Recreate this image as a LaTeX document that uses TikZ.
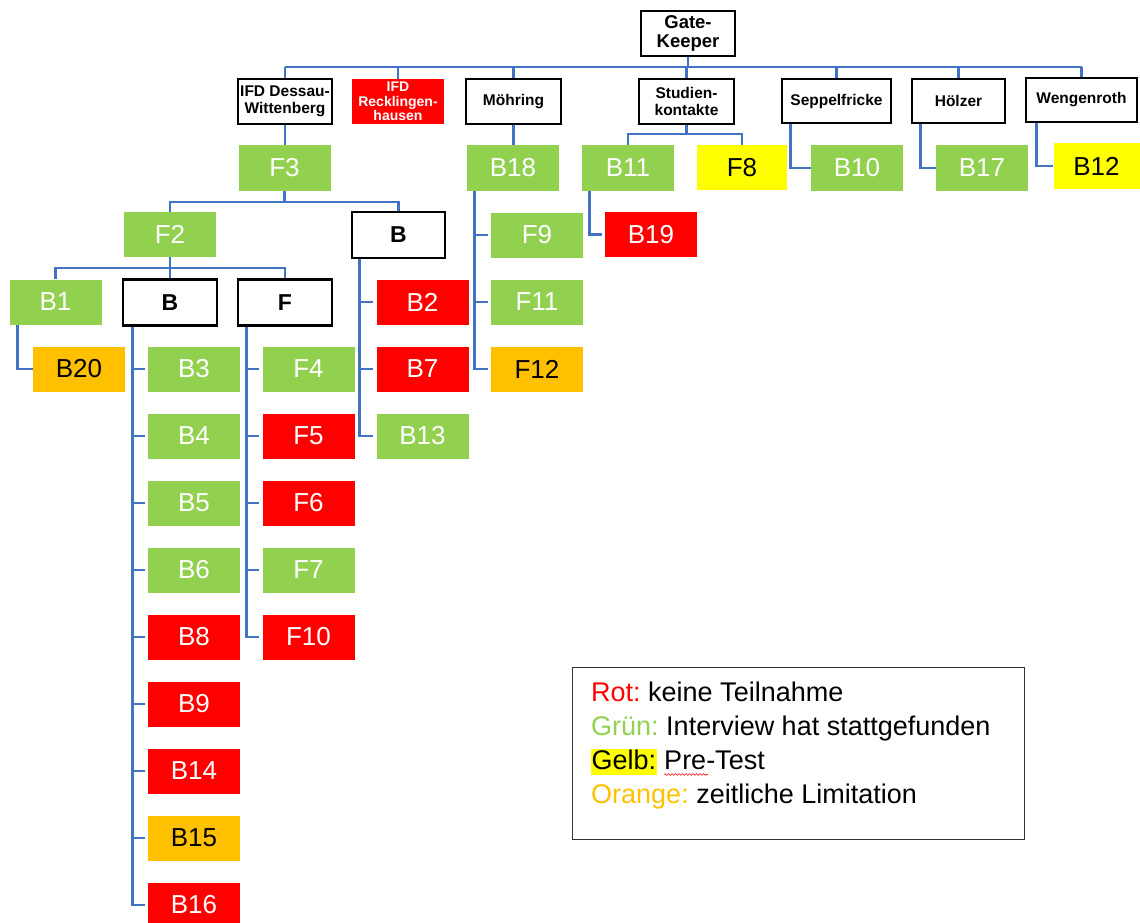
\documentclass[tikz,border=0pt]{standalone}
\usepackage{fontspec}
\setmainfont{Liberation Sans}
\usetikzlibrary{calc,decorations.pathmorphing}
\definecolor{cgreen}{HTML}{92D050}
\definecolor{cred}{HTML}{FF0000}
\definecolor{corange}{HTML}{FFC000}
\definecolor{cyellow}{HTML}{FFFF00}
\definecolor{cblue}{HTML}{4472C4}
\frenchspacing
\begin{document}
\begin{tikzpicture}[x=1pt,y=-1pt,
  top/.style={draw=black, line width=2.7pt, fill=white, inner sep=0pt, align=center,
    font=\bfseries\fontsize{15.5}{16.5}\selectfont, minimum height=45pt},
  leaf/.style={inner sep=0pt, minimum width=92pt, minimum height=45pt, font=\fontsize{26}{28}\selectfont},
  gr/.style={leaf, fill=cgreen, text=white},
  rd/.style={leaf, fill=cred, text=white},
  og/.style={leaf, fill=corange, text=black},
  yl/.style={leaf, fill=cyellow, text=black},
  grp/.style={draw=black, line width=2.7pt, fill=white, inner sep=0pt, minimum width=94pt,
    minimum height=46pt, font=\bfseries\fontsize{23}{25}\selectfont},
  con/.style={draw=cblue, line width=2.8pt},
  lg/.style={anchor=base west, inner sep=0pt, font=\fontsize{27}{30}\selectfont}
]
\useasboundingbox (0,0) rectangle (1140,923);

% top level
\node[top, minimum width=94pt, font=\bfseries\fontsize{18.5}{19.5}\selectfont] (gate) at (688,33.5) {Gate-\\Keeper};
\node[top, minimum width=94pt] (dessau) at (285,101.5) {IFD Dessau-\\Wittenberg};
\node[inner sep=0pt, fill=cred, text=white, align=center, minimum width=92pt, minimum height=45pt,
  font=\bfseries\fontsize{14}{14.5}\selectfont] (reck) at (398,101.5) {IFD\\Recklingen-\\hausen};
\node[top, minimum width=95pt] (moehring) at (513.5,101.5) {Möhring};
\node[top, minimum width=95pt] (studien) at (686.5,101.5) {Studien-\\kontakte};
\node[top, minimum width=109pt, minimum height=44pt] (seppel) at (836.5,101) {Seppelfricke};
\node[top, minimum width=93pt, minimum height=44pt] (hoelzer) at (958.5,101) {Hölzer};
\node[top, minimum width=111pt, minimum height=44pt] (wengen) at (1081.5,100) {Wengenroth};

\coordinate (bus) at (688,67);
\draw[con] (gate.south) -- (gate.south |- bus);
\draw[con] (dessau.north |- bus) -- (wengen.north |- bus);
\foreach \n in {dessau,reck,moehring,studien,seppel,hoelzer,wengen}
  \draw[con] (\n.north) -- (\n.north |- bus);

% second row
\node[gr] (f3) at (284.5,168) {F3};
\node[gr] (b18) at (513,168) {B18};
\node[gr] (b11) at (628,168) {B11};
\node[yl, minimum width=90pt] (f8) at (742,167.5) {F8};
\node[gr] (b10) at (857,168) {B10};
\node[gr] (b17) at (982,168) {B17};
\node[yl, minimum width=86pt] (b12) at (1096.5,166) {B12};

\draw[con] (dessau.south) -- (dessau.south |- f3.north);
\draw[con] (moehring.south) -- (moehring.south |- b18.north);
\coordinate (sbus) at (686.5,134);
\draw[con] (studien.south) -- (studien.south |- sbus);
\draw[con] (b11.north) |- (sbus) -| (f8.north);
\draw[con] ([xshift=10pt]seppel.south west) |- (b10.west);
\draw[con] ([xshift=10pt]hoelzer.south west) |- (b17.west);
\draw[con] ([xshift=12pt]wengen.south west) |- (b12.west);

% F3 subtree
\node[gr] (f2) at (170,234.5) {F2};
\node[grp, minimum width=93pt] (bw) at (398.5,235) {B};
\coordinate (f3bus) at (284.5,202);
\draw[con] (f3.south) -- (f3bus);
\draw[con] (f2.north) |- (f3bus) -| (bw.north);

\node[gr] (b1) at (55.5,302) {B1};
\node[grp] (bb) at (170,302.5) {B};
\node[grp] (ff) at (285,302.5) {F};
\coordinate (f2bus) at (170,268);
\draw[con] (f2.south) -- (f2bus);
\draw[con] (b1.north) |- (f2bus) -| (ff.north);
\draw[con] (bb.north) -- (bb.north |- f2bus);

\node[og] (b20) at (79,369) {B20};
\draw[con] ([xshift=8pt]b1.south west) |- (b20.west);

% B column
\node[gr] (b3) at (194,369) {B3};
\node[gr] (b4) at (194,436) {B4};
\node[gr] (b5) at (194,503) {B5};
\node[gr] (b6) at (194,570) {B6};
\node[rd] (b8) at (194,637) {B8};
\node[rd] (b9) at (194,704) {B9};
\node[rd] (b14) at (194,771) {B14};
\node[og] (b15) at (194,838) {B15};
\node[rd] (b16) at (194,905) {B16};
\coordinate (btr) at ([xshift=11pt]bb.south west);
\draw[con] (btr) |- ([xshift=-3pt]b16.west);
\foreach \n in {b3,b4,b5,b6,b8,b9,b14,b15}
  \draw[con] (btr |- \n.west) -- ([xshift=-3pt]\n.west);

% F column
\node[gr] (f4) at (308.5,369) {F4};
\node[rd] (f5) at (308.5,436) {F5};
\node[rd] (f6) at (308.5,503) {F6};
\node[gr] (f7) at (308.5,570) {F7};
\node[rd] (f10) at (308.5,637) {F10};
\coordinate (ftr) at ([xshift=10pt]ff.south west);
\draw[con] (ftr) |- ([xshift=-3pt]f10.west);
\foreach \n in {f4,f5,f6,f7}
  \draw[con] (ftr |- \n.west) -- ([xshift=-3pt]\n.west);

% right B column
\node[rd] (b2) at (422.5,302) {B2};
\node[rd] (b7) at (422.5,369) {B7};
\node[gr] (b13) at (422.5,436) {B13};
\coordinate (bwtr) at ([xshift=9pt]bw.south west);
\draw[con] (bwtr) |- ([xshift=-3pt]b13.west);
\foreach \n in {b2,b7}
  \draw[con] (bwtr |- \n.west) -- ([xshift=-3pt]\n.west);

% B18 subtree
\node[gr] (f9) at (537,235) {F9};
\node[gr] (f11) at (537,302) {F11};
\node[og] (f12) at (537,369) {F12};
\coordinate (b18tr) at ([xshift=8pt]b18.south west);
\draw[con] (b18tr) |- ([xshift=-3pt]f12.west);
\foreach \n in {f9,f11}
  \draw[con] (b18tr |- \n.west) -- ([xshift=-3pt]\n.west);

% B11 subtree
\node[rd] (b19) at (651,234.5) {B19};
\draw[con] ([xshift=8pt]b11.south west) |- ([xshift=-3pt]b19.west);

% legend
\node[draw=black!80, line width=1.3pt, inner sep=0pt, minimum width=452pt, minimum height=172pt, anchor=north west] (legend) at (572,667) {};
\node[lg] (l1) at (591,701) {\textcolor{cred}{Rot:} keine Teilnahme};
\node[lg] (l2) at (591,735) {\textcolor{cgreen}{Grün:} Interview hat stattgefunden};
\node[lg] (l3) at (591,769) {{\fboxsep=0.5pt\colorbox{cyellow}{\vphantom{Gg}Gelb:}} Pre-Test};
\node[lg] (l4) at (591,803) {\textcolor{corange}{Orange:} zeitliche Limitation};
\draw[cred, line width=0.6pt, decorate, decoration={snake, amplitude=0.9pt, segment length=3.5pt}] (664,774.5) -- (708,774.5);
\end{tikzpicture}
\end{document}
